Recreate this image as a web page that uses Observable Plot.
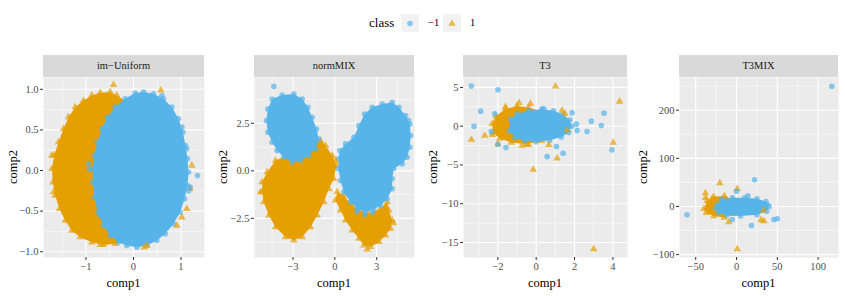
<!DOCTYPE html>
<html><head><meta charset="utf-8">
<script src="https://cdn.jsdelivr.net/npm/d3@7"></script>
<script src="https://cdn.jsdelivr.net/npm/@observablehq/plot@0.6"></script>
<style>
body{margin:0;background:#fff;}
#wrap{position:relative;width:845px;height:296px;overflow:hidden;background:#fff;font-family:'Liberation Serif';}
#wrap div{font-family:'Liberation Serif';}
.strip{position:absolute;top:55px;height:22px;background:#d9d9d9;color:#1a1a1a;font-size:10.5px;line-height:22px;text-align:center;}
.xt{position:absolute;top:275px;height:16px;line-height:16px;text-align:center;font-size:12.5px;color:#000;}
.yt{position:absolute;width:100px;height:16px;line-height:16px;text-align:center;font-size:12.5px;color:#000;transform:rotate(-90deg);}
.lg{position:absolute;color:#000;white-space:nowrap;}
.key{position:absolute;top:14px;width:18px;height:18px;background:#f2f2f2;}
</style></head><body><div id="wrap"></div>
<script>
// ---------- data ----------
const classLabels = ["−1", "1"];
const classColors = ["#56B4E9", "#E69F00"];
const panelNames = ["im−Uniform", "normMIX", "T3", "T3MIX"];

// im-Uniform
const imUniformPosBlob = [[-0.351,0.924],[-0.491,0.965],[-0.702,0.957],[-0.877,0.924],[-1.053,0.862],[-1.228,0.780],[-1.368,0.657],[-1.474,0.513],[-1.579,0.349],[-1.670,0.185],[-1.719,0.021],[-1.698,-0.144],[-1.649,-0.308],[-1.558,-0.472],[-1.439,-0.616],[-1.298,-0.739],[-1.123,-0.821],[-0.877,-0.883],[-0.632,-0.916],[-0.386,-0.903],[-0.140,-0.862],[0,-0.513],[0,0.513],[-0.140,0.842]];
const imUniformNegBlob = [[0.211,0.965],[0.421,0.945],[0.632,0.883],[0.807,0.780],[0.947,0.637],[1.039,0.472],[1.095,0.308],[1.137,0.144],[1.158,-0.021],[1.137,-0.185],[1.074,-0.349],[0.982,-0.513],[0.842,-0.657],[0.667,-0.780],[0.491,-0.862],[0.281,-0.924],[0.070,-0.945],[-0.140,-0.924],[-0.316,-0.883],[-0.491,-0.801],[-0.632,-0.678],[-0.751,-0.513],[-0.821,-0.329],[-0.856,-0.144],[-0.856,0.021],[-0.828,0.185],[-0.758,0.349],[-0.667,0.513],[-0.547,0.657],[-0.386,0.780],[-0.175,0.883],[0.035,0.953]];
const imUniformNegOut = [[1.347,-0.062],[1.193,-0.205],[1.16,-0.25],[-0.947,0.082],[-0.926,0.012],[-0.702,-0.554],[-0.561,-0.678],[1.12,0.267],[1.018,0.534],[0.597,0.924]];
const imUniformPosOut = [[-0.421,1.055],[0.575,0.986],[-1.719,0.185],[-1.684,-0.267],[1.018,-0.575],[1.123,-0.472],[1.228,0.062],[0.281,-0.924],[0.225,-0.945],[-0.702,-0.916],[-0.772,0.883],[1.193,-0.226],[0.912,-0.678]];

// normMIX
const normMixNegBlobA = [[-4.494,3.776],[-3.777,3.986],[-2.940,4.038],[-2.343,3.776],[-1.936,3.339],[-1.626,2.815],[-1.315,2.203],[-1.148,1.678],[-1.387,1.154],[-1.865,0.804],[-2.462,0.542],[-3.060,0.455],[-3.658,0.717],[-4.136,1.066],[-4.494,1.503],[-4.805,2.028],[-4.901,2.640],[-4.805,3.252]];
const normMixNegBlobB = [[0.359,1.066],[0.765,1.416],[1.363,1.766],[1.721,2.378],[2.128,2.990],[2.678,3.339],[3.395,3.514],[4.112,3.601],[4.590,3.339],[5.068,2.902],[5.379,2.465],[5.427,1.853],[5.379,1.241],[5.188,0.717],[4.829,0.367],[4.231,0.140],[4.112,-0.420],[4.112,-0.944],[3.753,-1.469],[3.275,-1.818],[2.797,-2.028],[2.199,-2.168],[1.602,-1.993],[1.124,-1.643],[0.645,-1.119],[0.406,-0.507],[0.263,0.105],[0.263,0.629]];
const normMixPosBlobA = [[-5.212,-1.119],[-5.092,-1.643],[-4.733,-2.343],[-4.255,-2.955],[-3.538,-3.479],[-2.940,-3.654],[-2.343,-3.479],[-1.745,-2.955],[-1.267,-2.343],[-0.789,-1.643],[-0.430,-0.944],[-0.072,-0.420],[0.120,0.280],[-0.191,0.804],[-0.669,1.329],[-1.028,1.591],[-1.506,1.416],[-1.984,0.979],[-2.701,0.804],[-3.419,0.804],[-4.255,0.542],[-4.853,-0.070],[-5.212,-0.594]];
const normMixPosBlobB = [[0.167,-1.119],[0.645,-1.294],[1.124,-1.731],[1.721,-2.080],[2.438,-2.255],[3.275,-1.993],[3.753,-1.643],[3.873,-2.080],[4.112,-2.605],[3.992,-3.042],[3.634,-3.392],[3.156,-3.741],[2.558,-4.003],[2.080,-3.916],[1.721,-3.566],[1.243,-3.129],[0.765,-2.605],[0.406,-2.080],[0.048,-1.556]];
const normMixNegOut = [[-4.375,4.441],[5.283,2.640],[2.152,-2.308],[1.243,-1.556],[1.60,-2.15],[2.70,-2.20]];
const normMixPosOut = [[0.048,0.542],[-5.33,-1.12],[2.319,-4.126],[4.20,-2.75]];

// T3
const t3PosBlob = [[-2.3,0.3],[-2.1,1.3],[-1.6,2.2],[-1.0,2.6],[-0.4,2.4],[0.3,1.9],[0.5,0],[0.3,-1.9],[-0.5,-2.3],[-1.3,-2.1],[-1.9,-1.6],[-2.25,-0.8]];
const t3NegBlob = [[-1.35,0.9],[-1.0,1.6],[-0.4,2.0],[0.3,2.2],[0.9,2.0],[1.4,1.5],[1.75,0.8],[1.85,0.0],[1.7,-0.8],[1.3,-1.4],[0.7,-1.8],[0,-2.0],[-0.6,-1.9],[-1.1,-1.5],[-1.4,-0.6]];
const t3NegOut = [[-3.380,5.172],[-1.993,4.698],[-2.894,1.940],[-3.241,0],[-2.166,1.595],[-2.340,-0.690],[-1.993,-2.328],[-1.577,-2.759],[0.572,-3.922],[1.057,-2.629],[1.404,-3.491],[1.872,1.724],[2.097,0.259],[2.132,-0.560],[2.652,-0.690],[2.877,0.647],[3.397,0.086],[3.536,1.681],[3.951,-3.060],[0.399,2.241]];
const t3PosOut = [[1.005,5.129],[4.350,3.190],[-3.380,-1.724],[-2.686,-1.207],[-2.288,-1.121],[-0.156,-5.603],[1.092,-4.138],[2.998,-15.862],[4.021,-2.112],[1.352,2.026],[-0.9,3.0],[-0.3,2.9],[-1.6,2.5],[1.5,1.6],[1.6,-0.5],[-2.0,-2.3],[-0.4,-2.4],[-0.728,-2.500],[0.659,-2.414]];

// T3MIX
const t3MixPosBlob = [[-40,-5],[-36,12],[-28,20],[-15,22],[-5,15],[-5,-15],[-15,-23],[-28,-20],[-37,-13]];
const t3MixNegBlob = [[-24,8],[-18,15],[-5,18],[10,18],[25,16],[36,10],[40,0],[37,-10],[25,-17],[5,-20],[-12,-18],[-22,-13],[-26,-3]];
const t3MixNegOut = [[116.8,249.8],[-60.7,-17.3],[22.1,55.4],[0,31.8],[13.9,22.1],[18.4,-39.4],[45.9,-27.0],[50.0,-25.6],[-5.3,-27.0],[37.7,3.5]];
const t3MixPosOut = [[-20.5,48.4],[-38.1,27.7],[-38.1,18.0],[0.8,36.7],[0.8,-88.6],[-9.4,-32.5],[33.6,-30.4],[30,-28],[33,-8],[-29.9,15.9],[-24.6,11.8],[-32,-8.3]];

// ticks
const imUniformXTicks = [-1, 0, 1], imUniformYTicks = [-1, -0.5, 0, 0.5, 1];
const normMixXTicks = [-3, 0, 3], normMixYTicks = [-2.5, 0, 2.5];
const t3XTicks = [-2, 0, 2, 4], t3YTicks = [-15, -10, -5, 0, 5];
const t3MixXTicks = [-50, 0, 50, 100], t3MixYTicks = [-100, 0, 100, 200];

// ---------- layout / drawing ----------
const FONT = "Liberation Serif";
const wrap = document.getElementById("wrap");
const f1 = d3.format(".1f"), f0 = d3.format("d");
const minors = t => { const s = t[1]-t[0]; const out = []; for (let i = -1; i < t.length; i++) out.push(t[0] + (i + 0.5) * s); return out; };

const panels = [
  {name: panelNames[0], left: 43, right: 204, xDomain: [-1.895, 1.495], yDomain: [-1.071, 1.145], xTicks: imUniformXTicks, yTicks: imUniformYTicks, xFmt: f0, yFmt: f1, ytx: -30,
   pos: [imUniformPosBlob], neg: [imUniformNegBlob], posOut: imUniformPosOut, negOut: imUniformNegOut},
  {name: panelNames[1], left: 254, right: 414, xDomain: [-5.76, 5.71], yDomain: [-4.56, 4.91], xTicks: normMixXTicks, yTicks: normMixYTicks, xFmt: f0, yFmt: f1, ytx: -31,
   pos: [normMixPosBlobA, normMixPosBlobB], neg: [normMixNegBlobA, normMixNegBlobB], posOut: normMixPosOut, negOut: normMixNegOut},
  {name: panelNames[2], left: 463, right: 627, xDomain: [-3.79, 4.76], yDomain: [-16.94, 6.28], xTicks: t3XTicks, yTicks: t3YTicks, xFmt: f0, yFmt: f0, ytx: -30,
   pos: [t3PosBlob], neg: [t3NegBlob], posOut: t3PosOut, negOut: t3NegOut},
  {name: panelNames[3], left: 679, right: 838, xDomain: [-69.9, 125], yDomain: [-106, 268], xTicks: t3MixXTicks, yTicks: t3MixYTicks, xFmt: f0, yFmt: f0, ytx: -36,
   pos: [t3MixPosBlob], neg: [t3MixNegBlob], posOut: t3MixPosOut, negOut: t3MixNegOut}
];

const ml = 43, mr = 8, H = 219, mb = 39;
for (const p of panels) {
  const pw = p.right - p.left;
  const within = (arr, dom) => arr.filter(v => v > Math.min(...dom) && v < Math.max(...dom));
  const xm = within(minors(p.xTicks), p.xDomain), ym = within(minors(p.yTicks), p.yDomain);
  const gopt = w => ({stroke: "white", strokeOpacity: 1, strokeWidth: w});
  const marks = [
    Plot.frame({fill: "#ebebeb", stroke: "none"}),
    Plot.gridX(xm, gopt(0.55)), Plot.gridY(ym, gopt(0.55)),
    Plot.gridX(p.xTicks, gopt(1.1)), Plot.gridY(p.yTicks, gopt(1.1)),
    Plot.axisX(p.xTicks, {tickSize: 3, tickPadding: 2, stroke: "#333333", fill: "#4d4d4d", fontSize: 10.5, tickFormat: p.xFmt, label: null}),
    Plot.axisY(p.yTicks, {tickSize: 3, tickPadding: 2, stroke: "#333333", fill: "#4d4d4d", fontSize: 10.5, tickFormat: p.yFmt, label: null})
  ];
  const blob = (d, c, sym) => [
    Plot.line(d, {x: v => v[0], y: v => v[1], fill: c, stroke: "none", curve: "linear-closed", clip: true}),
    Plot.dot(d, {x: v => v[0], y: v => v[1], r: 2.8, symbol: sym, fill: c, fillOpacity: 0.7, stroke: "none", clip: true})
  ];
  for (const d of p.pos) marks.push(...blob(d, classColors[1], "triangle"));
  for (const d of p.neg) marks.push(...blob(d, classColors[0], "circle"));
  marks.push(Plot.dot(p.posOut, {x: v => v[0], y: v => v[1], r: 2.8, symbol: "triangle", fill: classColors[1], fillOpacity: 0.7, stroke: "none", clip: true}));
  marks.push(Plot.dot(p.negOut, {x: v => v[0], y: v => v[1], r: 2.8, symbol: "circle", fill: classColors[0], fillOpacity: 0.7, stroke: "none", clip: true}));

  const svg = Plot.plot({
    width: ml + pw + mr, height: H, marginLeft: ml, marginRight: mr, marginTop: 0, marginBottom: mb,
    x: {domain: p.xDomain}, y: {domain: p.yDomain},
    style: {background: "transparent", overflow: "visible"},
    marks
  });
  svg.setAttribute("font-family", FONT);
  svg.style.fontFamily = "'Liberation Serif'";
  svg.querySelectorAll("text").forEach(t => t.setAttribute("font-family", FONT));
  svg.style.position = "absolute";
  svg.style.left = (p.left - ml) + "px";
  svg.style.top = "77px";
  wrap.appendChild(svg);

  const s = document.createElement("div");
  s.className = "strip"; s.style.left = p.left + "px"; s.style.width = pw + "px"; s.textContent = p.name;
  wrap.appendChild(s);
  const xt = document.createElement("div");
  xt.className = "xt"; xt.style.left = p.left + "px"; xt.style.width = pw + "px"; xt.textContent = "comp1";
  wrap.appendChild(xt);
  const yt = document.createElement("div");
  yt.className = "yt"; yt.style.left = (p.left + p.ytx - 50) + "px"; yt.style.top = (167 - 8) + "px"; yt.textContent = "comp2";
  wrap.appendChild(yt);
}

// legend
const lgTitle = document.createElement("div");
lgTitle.className = "lg"; lgTitle.style.cssText += "left:369px;top:15px;font-size:13px;line-height:16px;"; lgTitle.textContent = "class";
wrap.appendChild(lgTitle);
const keyX = [401, 443], labX = [428, 470];
classLabels.forEach((lab, i) => {
  const k = document.createElement("div");
  k.className = "key"; k.style.left = keyX[i] + "px";
  k.innerHTML = i === 0
    ? `<svg width="18" height="18"><circle cx="9" cy="9.5" r="2.8" fill="${classColors[0]}" fill-opacity="0.7"/></svg>`
    : `<svg width="18" height="18"><path d="M9,5.6L12.6,11.8L5.4,11.8Z" fill="${classColors[1]}" fill-opacity="0.7"/></svg>`;
  wrap.appendChild(k);
  const t = document.createElement("div");
  t.className = "lg"; t.style.cssText += `left:${labX[i]}px;top:16px;font-size:10.5px;line-height:14px;`; t.textContent = lab;
  wrap.appendChild(t);
});
</script></body></html>
